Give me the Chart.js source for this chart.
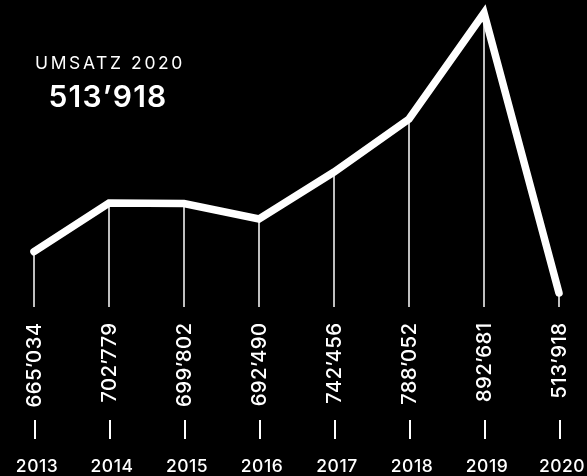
<!DOCTYPE html>
<html><head><meta charset="utf-8">
<script src="https://cdn.jsdelivr.net/npm/chart.js@4"></script>
<style>
html,body{margin:0;padding:0;background:#000;}
#wrap{width:587px;height:476px;position:relative;}
</style>
</head><body><div id="wrap"><canvas id="c"></canvas></div>
<script>
// categories
const years = ['2013','2014','2015','2016','2017','2018','2019','2020'];
// revenue labels printed along each drop line
const revenueLabels = ['665’034','702’779','699’802','692’490','742’456','788’052','892’681','513’918'];
// height of the drawn (stylised) line at each year, in thousands
const lineLevels = [665.3, 711.5, 711.0, 696.3, 740.9, 791.2, 891.8, 626.1];
// visible range of the value axis (thousands)
const yMin = 612.85, yMax = 904.1;
const headline = 'UMSATZ 2020';
const headlineValue = '513’918';

const FONT = 'Inter, Lato, sans-serif';

const decor = {
  id: 'decor',
  beforeDraw(chart) {
    const ctx = chart.ctx;
    ctx.save();
    ctx.fillStyle = '#000';
    ctx.fillRect(0, 0, chart.width, chart.height);
    ctx.restore();
  },
  beforeDatasetsDraw(chart) {
    const ctx = chart.ctx;
    const meta = chart.getDatasetMeta(0);
    const bottom = chart.chartArea.bottom;
    ctx.save();
    ctx.strokeStyle = '#fff';
    ctx.lineWidth = 1.5;
    meta.data.forEach(pt => {
      ctx.beginPath();
      ctx.moveTo(pt.x, pt.y);
      ctx.lineTo(pt.x, bottom);
      ctx.stroke();
    });
    ctx.restore();
  },
  afterDraw(chart) {
    const ctx = chart.ctx;
    const meta = chart.getDatasetMeta(0);
    const bottom = chart.chartArea.bottom;
    ctx.save();
    ctx.fillStyle = '#fff';
    ctx.strokeStyle = '#fff';
    meta.data.forEach((pt, i) => {
      // rotated value label
      ctx.save();
      ctx.translate(pt.x + 1, bottom + 15.5);
      ctx.rotate(-Math.PI / 2);
      ctx.font = '500 20.5px ' + FONT;
      ctx.letterSpacing = '0.3px';
      ctx.textAlign = 'right';
      ctx.textBaseline = 'middle';
      ctx.fillText(revenueLabels[i], 0, 0);
      ctx.restore();
      // small tick
      ctx.lineWidth = 2;
      ctx.beginPath();
      ctx.moveTo(pt.x + 1, bottom + 113);
      ctx.lineTo(pt.x + 1, bottom + 132);
      ctx.stroke();
      // year label
      ctx.font = '500 17.5px ' + FONT;
      ctx.letterSpacing = '0.5px';
      ctx.textAlign = 'center';
      ctx.textBaseline = 'alphabetic';
      ctx.fillText(years[i], pt.x + 3, 472);
    });
    // headline
    ctx.textAlign = 'center';
    ctx.textBaseline = 'alphabetic';
    ctx.font = '400 17.5px ' + FONT;
    ctx.letterSpacing = '2.6px';
    ctx.fillText(headline, 110, 69);
    ctx.font = '600 30px ' + FONT;
    ctx.letterSpacing = '1.2px';
    ctx.fillText(headlineValue, 108, 107);
    ctx.restore();
  }
};

new Chart(document.getElementById('c'), {
  type: 'line',
  data: {
    labels: years,
    datasets: [{
      data: lineLevels,
      borderColor: '#fff',
      borderWidth: 7.5,
      borderCapStyle: 'round',
      borderJoinStyle: 'miter',
      tension: 0,
      pointRadius: 0,
      pointHoverRadius: 0,
      fill: false,
      clip: false
    }]
  },
  options: {
    responsive: true,
    maintainAspectRatio: false,
    animation: false,
    layout: { padding: { left: 34, right: 28, top: 0, bottom: 169 } },
    plugins: { legend: { display: false }, tooltip: { enabled: false } },
    scales: {
      x: { type: 'category', display: false, offset: false },
      y: { display: false, min: yMin, max: yMax }
    }
  },
  plugins: [decor]
});
</script>
</body></html>
